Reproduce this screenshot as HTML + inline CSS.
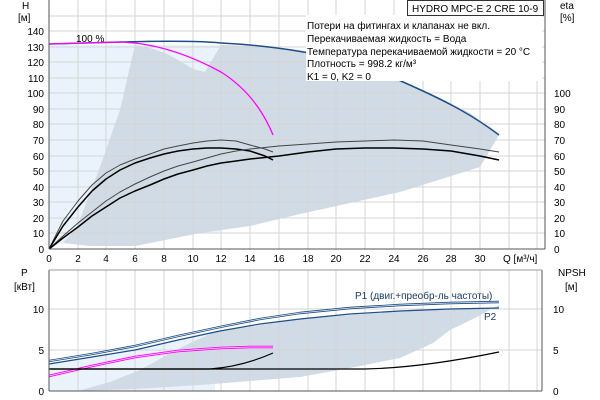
<!DOCTYPE html>
<html><head><meta charset="utf-8"><style>
body{margin:0;background:#fff}
svg{display:block;font-family:"Liberation Sans",sans-serif}
</style></head><body>
<svg width="600" height="400" viewBox="0 0 600 400" xmlns="http://www.w3.org/2000/svg">
<!-- top plot backgrounds -->
<polygon points="49,45 221,45 221,232 200,233 165,240 135,246 90,246 63,243 49,249" fill="#eaf3fb"/>
<polygon points="63,243 77,227 100,167 120,110 135,45 150,48 165,53 180,61 193,69 205,72 221,45 260,46 300,50 340,57 394,78 440,98 470,113 499,135 480,167 400,192 300,214 250,226 200,233 165,240 135,246 90,246" fill="#d0dbe6"/>
<!-- top grid -->
<g stroke="#d4d4d4" stroke-width="1">
<line x1="78" y1="0" x2="78" y2="249"/><line x1="106" y1="0" x2="106" y2="249"/><line x1="135" y1="0" x2="135" y2="249"/><line x1="164" y1="0" x2="164" y2="249"/><line x1="193" y1="0" x2="193" y2="249"/><line x1="221" y1="0" x2="221" y2="249"/><line x1="250" y1="0" x2="250" y2="249"/><line x1="279" y1="0" x2="279" y2="249"/><line x1="308" y1="0" x2="308" y2="249"/><line x1="336" y1="0" x2="336" y2="249"/><line x1="365" y1="0" x2="365" y2="249"/><line x1="394" y1="0" x2="394" y2="249"/><line x1="423" y1="0" x2="423" y2="249"/><line x1="451" y1="0" x2="451" y2="249"/><line x1="480" y1="0" x2="480" y2="249"/><line x1="509" y1="0" x2="509" y2="249"/><line x1="537" y1="0" x2="537" y2="249"/>
<line x1="49" y1="233" x2="545" y2="233"/><line x1="49" y1="218" x2="545" y2="218"/><line x1="49" y1="202" x2="545" y2="202"/><line x1="49" y1="187" x2="545" y2="187"/><line x1="49" y1="171" x2="545" y2="171"/><line x1="49" y1="156" x2="545" y2="156"/><line x1="49" y1="140" x2="545" y2="140"/><line x1="49" y1="124" x2="545" y2="124"/><line x1="49" y1="109" x2="545" y2="109"/><line x1="49" y1="93" x2="545" y2="93"/><line x1="49" y1="78" x2="545" y2="78"/><line x1="49" y1="62" x2="545" y2="62"/><line x1="49" y1="47" x2="545" y2="47"/><line x1="49" y1="31" x2="545" y2="31"/><line x1="49" y1="16" x2="545" y2="16"/>
</g>
<!-- top curves -->
<path d="M49,44 L121,42 C160,41 200,41 221,43 C280,46 340,55 394,78 C440,98 470,113 499,135" fill="none" stroke="#1f4e86" stroke-width="1.5"/>
<path d="M49,44 L121,42 L135,43 C160,46 190,55 221,72 C240,84 260,103 273,135" fill="none" stroke="#ff00ff" stroke-width="1.3"/>
<g fill="none" stroke-linejoin="round">
<polyline points="49,249 63,221 78,201 92,185 106,173 120,165 135,159 150,154 164,149 178,146 193,143 207,141 221,140 236,141 250,145 265,149 273,152" stroke="#444" stroke-width="1"/>
<polyline points="49,249 63,226 78,207 92,191 106,179 120,170 135,163 150,158 164,154 178,151 193,149 207,148 221,148 236,149 250,151 265,156 273,160" stroke="#000" stroke-width="1.5"/>
<polyline points="49,249 63,236 78,223 92,212 106,201 120,192 135,184 150,177 164,171 178,166 193,162 207,158 221,154 236,151 250,149 279,146 308,144 336,142 365,141 394,140 423,141 451,145 480,149 499,152" stroke="#444" stroke-width="1"/>
<polyline points="49,249 63,238 78,227 92,216 106,207 120,198 135,191 150,185 164,179 178,174 193,170 207,166 221,163 236,161 250,159 279,156 308,152 336,149 365,148 394,148 423,149 451,151 480,156 499,160" stroke="#000" stroke-width="1.5"/>
</g>
<text x="76" y="42" font-size="10" fill="#000">100 %</text>
<!-- top axes -->
<line x1="49" y1="0" x2="49" y2="249" stroke="#555"/>
<line x1="49" y1="249" x2="545" y2="249" stroke="#555"/>
<line x1="545" y1="0" x2="545" y2="249" stroke="#555"/>
<g font-size="10" text-anchor="end" fill="#000">
<text x="44" y="253">0</text><text x="44" y="237">10</text><text x="44" y="222">20</text><text x="44" y="206">30</text><text x="44" y="191">40</text><text x="44" y="175">50</text><text x="44" y="160">60</text><text x="44" y="144">70</text><text x="44" y="128">80</text><text x="44" y="113">90</text><text x="44" y="97">100</text><text x="44" y="82">110</text><text x="44" y="66">120</text><text x="44" y="51">130</text><text x="44" y="35">140</text>
</g>
<g font-size="10" fill="#000">
<text x="554" y="253">0</text><text x="554" y="237">10</text><text x="554" y="222">20</text><text x="554" y="206">30</text><text x="554" y="191">40</text><text x="554" y="175">50</text><text x="554" y="160">60</text><text x="554" y="144">70</text><text x="554" y="128">80</text><text x="554" y="113">90</text><text x="554" y="97">100</text>
<text x="22" y="9">H</text><text x="18" y="21">[м]</text>
<text x="560" y="9">eta</text><text x="560" y="21">[%]</text>
</g>
<g font-size="10" text-anchor="middle" fill="#000">
<text x="49" y="262">0</text><text x="78" y="262">2</text><text x="106" y="262">4</text><text x="135" y="262">6</text><text x="164" y="262">8</text><text x="193" y="262">10</text><text x="221" y="262">12</text><text x="250" y="262">14</text><text x="279" y="262">16</text><text x="308" y="262">18</text><text x="336" y="262">20</text><text x="365" y="262">22</text><text x="394" y="262">24</text><text x="423" y="262">26</text><text x="451" y="262">28</text><text x="480" y="262">30</text>
</g>
<text x="503" y="262" font-size="10" fill="#000">Q [м³/ч]</text>
<!-- legend -->
<rect x="306" y="15" width="236" height="66" fill="#fff"/>
<g font-size="10" fill="#000">
<text x="307" y="29">Потери на фитингах и клапанах не вкл.</text>
<text x="307" y="42">Перекачиваемая жидкость = Вода</text>
<text x="307" y="55">Температура перекачиваемой жидкости = 20 °C</text>
<text x="307" y="67">Плотность = 998.2 кг/м³</text>
<text x="307" y="80">K1 = 0, K2 = 0</text>
</g>
<rect x="407.5" y="0.5" width="136" height="15" fill="#fff" stroke="#333"/>
<text x="412" y="12" font-size="10" fill="#000">HYDRO MPC-E 2 CRE 10-9</text>

<!-- bottom plot -->
<polygon points="49,364 135,350 215,332 215,391 49,391" fill="#eaf3fb"/>
<polygon points="78,391 110,382 140,370 165,356 190,343 215,332 300,319 400,311 499,308 499,305 475,318 450,330 433,343 400,358 350,368 300,377 200,385 135,389" fill="#d0dbe6"/>
<g stroke="#d4d4d4" stroke-width="1">
<line x1="78" y1="270" x2="78" y2="391"/><line x1="106" y1="270" x2="106" y2="391"/><line x1="135" y1="270" x2="135" y2="391"/><line x1="164" y1="270" x2="164" y2="391"/><line x1="193" y1="270" x2="193" y2="391"/><line x1="221" y1="270" x2="221" y2="391"/><line x1="250" y1="270" x2="250" y2="391"/><line x1="279" y1="270" x2="279" y2="391"/><line x1="308" y1="270" x2="308" y2="391"/><line x1="336" y1="270" x2="336" y2="391"/><line x1="365" y1="270" x2="365" y2="391"/><line x1="394" y1="270" x2="394" y2="391"/><line x1="423" y1="270" x2="423" y2="391"/><line x1="451" y1="270" x2="451" y2="391"/><line x1="480" y1="270" x2="480" y2="391"/><line x1="509" y1="270" x2="509" y2="391"/><line x1="537" y1="270" x2="537" y2="391"/>
<line x1="49" y1="350" x2="542" y2="350"/><line x1="49" y1="309" x2="542" y2="309"/>
</g>
<g fill="none" stroke-linejoin="round">
<polyline points="49,361 92,354 135,346 178,336 220,327 260,319 300,313 350,308 400,305 450,303 499,302" stroke="#1f4e86" stroke-width="2.4"/>
<polyline points="49,361 92,354 135,346 178,336 220,327 260,319 300,313 350,308 400,305 450,303 499,302" stroke="#e8eef5" stroke-width="0.7"/>
<polyline points="49,364 92,357 135,350 178,340 220,331 260,324 300,319 350,314 400,311 450,309 499,308" stroke="#1f4e86" stroke-width="1.2"/>
<polyline points="49,376 92,366 135,357 178,351 220,348 250,347 273,347" stroke="#ff00ff" stroke-width="2.6"/>
<polyline points="49,376 92,366 135,357 178,351 220,348 250,347 273,347" stroke="#fde" stroke-width="0.7"/>
<path d="M49,369 L210,369 C235,367 255,361 273,353" stroke="#000" stroke-width="1.2"/>
<path d="M49,369 L365,369 C410,368 460,360 499,352" stroke="#000" stroke-width="1.2"/>
</g>
<line x1="49" y1="270" x2="49" y2="391" stroke="#555"/>
<line x1="49" y1="391" x2="542" y2="391" stroke="#555"/>
<line x1="542" y1="270" x2="542" y2="391" stroke="#555"/>
<line x1="49" y1="270" x2="542" y2="270" stroke="#999"/>
<g font-size="10" fill="#000">
<text x="44" y="395" text-anchor="end">0</text><text x="44" y="354" text-anchor="end">5</text><text x="44" y="313" text-anchor="end">10</text>
<text x="553" y="395">0</text><text x="553" y="354">5</text><text x="553" y="313">10</text>
<text x="21" y="276">P</text><text x="14" y="290">[кВт]</text>
<text x="558" y="276">NPSH</text><text x="565" y="290">[м]</text>
</g>
<g font-size="10" fill="#1f3a66">
<text x="355" y="299">P1 (двиг.+преобр-ль частоты)</text>
<text x="484" y="320">P2</text>
</g>
</svg>
</body></html>
